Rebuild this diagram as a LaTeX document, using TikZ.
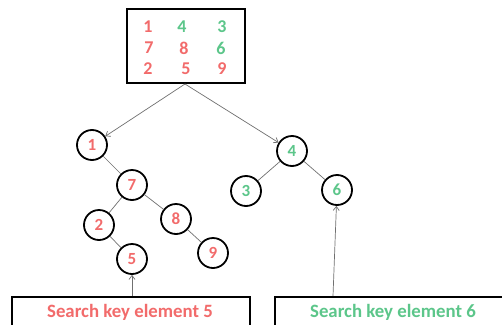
\documentclass[tikz,border=0pt]{standalone}
\usepackage{fontspec}
\setmainfont{Carlito}
\usetikzlibrary{arrows.meta}
\definecolor{kred}{HTML}{F26B6B}
\definecolor{kgreen}{HTML}{5CC68A}
\definecolor{eline}{HTML}{707070}
\tikzset{
  tn/.style={draw=black, line width=1.8pt, circle, minimum size=30pt, inner sep=0pt, font=\bfseries\fontsize{17}{17}\selectfont},
  rn/.style={tn, text=kred},
  gn/.style={tn, text=kgreen},
  dig/.style={font=\bfseries\fontsize{18}{18}\selectfont, inner sep=0pt},
  edge/.style={draw=eline, line width=0.7pt},
  arr/.style={draw=eline, line width=0.7pt, -{Straight Barb[length=4pt,width=6pt]}},
  boxst/.style={draw=black, line width=2pt},
  lbl/.style={font=\bfseries\fontsize{18.8}{18.8}\selectfont, inner sep=0pt}
}
\begin{document}
\begin{tikzpicture}[x=1pt,y=-1pt]
\useasboundingbox (0,0) rectangle (502,324);
\clip (0,0) rectangle (502,324);
\fill[white] (0,0) rectangle (502,324);
% top box
\draw[boxst] (127,9) rectangle (245,83);
\coordinate (topb) at (185,84);
\node[dig,text=kred]   (a1) at (148,27) {1};
\node[dig,text=kgreen] (a4) at (182,27) {4};
\node[dig,text=kgreen] (a3) at (222,27) {3};
\node[dig,text=kred]   (a7) at (149,48) {7};
\node[dig,text=kred]   (a8) at (184,48) {8};
\node[dig,text=kgreen] (a6) at (221,48) {6};
\node[dig,text=kred]   (a2) at (148,69) {2};
\node[dig,text=kred]   (a5) at (186,69) {5};
\node[dig,text=kred]   (a9) at (222,69) {9};
% tree nodes
\node[rn] (n1) at (92,145) {1};
\node[rn] (n7) at (132,185) {7};
\node[rn] (n2) at (99,225) {2};
\node[rn] (n8) at (176,219) {8};
\node[rn] (n5) at (132,259) {5};
\node[rn] (n9) at (213,253) {9};
\node[gn] (n4) at (292,151) {4};
\node[gn] (n3) at (246,191) {3};
\node[gn] (n6) at (337,190) {6};
% edges
\draw[edge] (n1) -- (n7);
\draw[edge] (n7) -- (n2);
\draw[edge] (n7) -- (n8);
\draw[edge] (n2) -- (n5);
\draw[edge] (n8) -- (n9);
\draw[edge] (n4) -- (n3);
\draw[edge] (n4) -- (n6);
\draw[arr] (topb) -- (n1);
\draw[arr] (topb) -- (n4);
% bottom boxes
\draw[boxst] (12,297) rectangle (250,334);
\draw[boxst] (275,297) rectangle (503,334);
\node[lbl, text=kred] (s5) at (130,312) {Search key element 5};
\node[lbl, text=kgreen] (s6) at (393,312) {Search key element 6};
\coordinate (b5) at (132,296);
\coordinate (b6) at (333,296);
\draw[arr] (b5) -- (n5);
\draw[arr] (b6) -- (n6);
\end{tikzpicture}
\end{document}
